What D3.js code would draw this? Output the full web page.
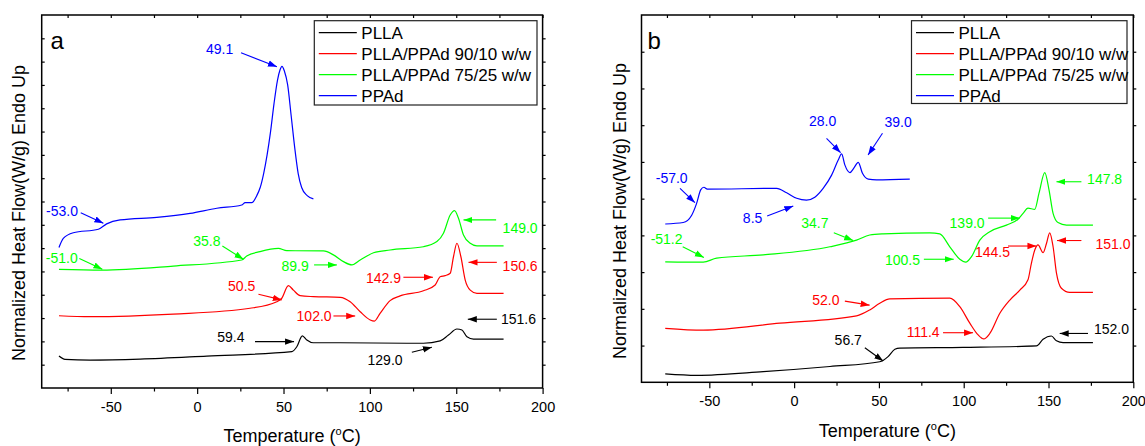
<!DOCTYPE html>
<html>
<head>
<meta charset="utf-8">
<script src="https://cdnjs.cloudflare.com/ajax/libs/d3/7.8.5/d3.min.js"></script>
<style>
body { margin: 0; background: #fff; }
svg { display: block; font-family: Arial, "Liberation Sans", sans-serif; }
</style>
</head>
<body>
<svg id="chart" width="1145" height="446"></svg>
<script>
// series names, in legend order
var seriesNames = ["PLLA", "PLLA/PPAd 90/10 w/w", "PLLA/PPAd 75/25 w/w", "PPAd"];
var xMajor = [-50, 0, 50, 100, 150, 200];
var xMinor = [-75, -25, 25, 75, 125, 175];

// panel a : [temperature (°C), heat flow (offset units)]
var aPLLA = [[-80,1.37],[-76.5,1.23],[-62,1.2],[-33,1.24],[5.6,1.37],[54.8,1.56],[57.7,1.77],[60.9,2.24],[63.5,2.06],[67.3,1.94],[82.8,1.94],[121.4,1.92],[131,1.92],[140.7,2.02],[145.5,2.27],[150.4,2.53],[153.3,2.49],[156.2,2.2],[160,2.1],[177.4,2.1]];
var a9010 = [[-80,3.1],[-62,3.06],[-13.8,3.17],[30.6,3.42],[46.1,3.7],[49,3.85],[52.8,4.39],[55.7,4.2],[59.6,3.96],[67.3,3.92],[82.8,3.89],[88.6,3.7],[94.4,3.27],[100.2,2.92],[102.6,2.87],[105.9,3.2],[111.7,3.75],[117.5,3.95],[131,4.17],[137.8,4.42],[140.7,4.77],[143.6,4.82],[146.5,4.92],[148.4,5.63],[150.4,6.21],[152.7,5.63],[155.2,4.63],[158.1,4.2],[162,4.06],[177.4,4.06]];
var a7525 = [[-80,5.09],[-55.2,5.06],[-13.8,5.23],[25.8,5.49],[28.7,5.66],[36.4,5.85],[47,5.99],[51.9,5.89],[73.1,5.88],[78.9,5.71],[84.7,5.42],[89.6,5.28],[94.4,5.49],[102.1,5.8],[111.7,5.92],[131,6.06],[138.8,6.28],[142.6,6.64],[146.5,7.42],[149,7.61],[151.3,7.28],[154.2,6.56],[158.1,6.21],[162,6.1],[177.4,6.1]];
var aPPAd = [[-80,6.03],[-77.5,6.42],[-71.7,6.66],[-57.2,6.81],[-52.4,7.04],[-44.6,7.21],[-23.4,7.32],[-4.1,7.49],[11.4,7.71],[25.8,7.85],[27.8,7.95],[31.6,7.95],[34.5,8.25],[36.5,8.6],[38.5,9.2],[40.5,10.0],[42.5,11.0],[44.5,12.2],[46.5,13.2],[48,13.65],[49.1,13.8],[50.5,13.6],[52.4,13.0],[54.4,11.7],[56.5,10.3],[58.5,9.2],[60.5,8.6],[63.7,8.25],[67.3,8.11]];

// panel b
var bPLLA = [[-76,0.23],[-57.5,0.19],[-18.2,0.29],[21.1,0.43],[50.5,0.56],[55.4,0.7],[59.4,0.9],[62.3,0.93],[99.6,0.95],[142.9,0.99],[146.8,1.17],[151.7,1.26],[154.7,1.13],[158.6,1.08],[176.2,1.08]];
var b9010 = [[-76,1.47],[-53.6,1.42],[-8.4,1.61],[36.8,1.81],[44.6,1.97],[50.5,2.15],[56.4,2.27],[91.8,2.29],[97.7,2.06],[103.6,1.61],[108.5,1.29],[111.8,1.18],[115.4,1.33],[121.3,1.88],[127.2,2.24],[133.1,2.51],[137.9,2.79],[139.9,3.24],[141.9,3.6],[143.8,3.74],[146.8,3.53],[148.8,3.78],[150.7,4.07],[152.7,3.69],[154.7,2.97],[157.6,2.56],[162.5,2.45],[176.2,2.45]];
var b7525 = [[-76,3.28],[-53.6,3.27],[-45.7,3.38],[-18.2,3.47],[21.1,3.69],[36.8,3.87],[44.6,4.01],[52.5,4.04],[80,4.07],[85.9,4.04],[91.8,3.69],[97.7,3.35],[101.2,3.27],[104.6,3.42],[109.5,3.87],[115.4,4.1],[125.2,4.28],[132,4.44],[135,4.6],[137.9,4.74],[141.9,4.71],[144.4,5.15],[147.8,5.71],[150.3,5.24],[152.7,4.6],[155.6,4.35],[160.6,4.28],[176.2,4.28]];
var bPPAd = [[-76,4.31],[-65.4,4.35],[-60.4,4.55],[-57.5,4.87],[-55.1,5.24],[-53.2,5.31],[-51.2,5.26],[-10.3,5.28],[-4.4,5.16],[1.5,5.01],[7.3,4.96],[12.2,5.04],[17.1,5.28],[22.1,5.64],[26,6.05],[28,6.22],[29.9,5.92],[32.9,5.71],[35.2,5.83],[37.8,5.99],[40.3,5.69],[43.7,5.53],[48.6,5.51],[68.2,5.53]];

// annotations: text, series index, text at [T,v], arrow from [T,v] to [T,v]
var notesA = [
  ["49.1", 3, [13.0,14.54], [25.4,14.38], [46.2,13.78]],
  ["-53.0", 3, [-78.2,7.61], [-67.4,7.52], [-54.3,7.07]],
  ["35.8", 2, [5.6,6.32], [14.6,6.09], [26.8,5.52]],
  ["-51.0", 2, [-78.4,5.59], [-68.2,5.56], [-54.9,5.09]],
  ["89.9", 2, [56.7,5.23], [67.7,5.28], [80.9,5.28]],
  ["149.0", 2, [187.0,6.85], [173.1,7.21], [154.2,7.21]],
  ["50.5", 1, [25.8,4.38], [35.5,4.02], [49.0,3.78]],
  ["142.9", 1, [107.9,4.71], [119.4,4.75], [136.5,4.75]],
  ["150.6", 1, [187.0,5.23], [173.5,5.39], [157.1,5.39]],
  ["102.0", 1, [67.7,3.09], [78.9,3.09], [91.5,3.09]],
  ["151.6", 0, [186.0,2.96], [173.5,2.95], [156.7,2.95]],
  ["59.4", 0, [19.5,2.18], [33.5,1.99], [56.1,1.99]],
  ["129.0", 0, [108.8,1.2], [124.3,1.53], [135.9,1.75]]
];
var notesB = [
  ["-57.0", 3, [-72.2,5.57], [-67.3,5.28], [-58.5,4.89]],
  ["8.5", 3, [-24.5,4.47], [-15.9,4.53], [-0.5,4.8]],
  ["28.0", 3, [16.8,7.11], [19.1,6.64], [27.4,6.25]],
  ["39.0", 3, [61.3,7.08], [52.1,6.78], [43.6,6.19]],
  ["34.7", 2, [12.2,4.33], [23.4,4.07], [34.8,3.86]],
  ["-51.2", 2, [-75.2,3.89], [-65.7,3.69], [-53.2,3.4]],
  ["100.5", 2, [63.9,3.33], [76.5,3.35], [94.1,3.35]],
  ["139.0", 2, [102.0,4.35], [114.4,4.47], [133.0,4.47]],
  ["147.8", 2, [183.1,5.53], [169.4,5.46], [154.7,5.46]],
  ["144.5", 1, [117.0,3.56], [126.1,3.71], [142.9,3.71]],
  ["151.0", 1, [188.0,3.78], [169.4,3.86], [155.0,3.86]],
  ["52.0", 1, [18.7,2.24], [29.9,2.21], [44.5,2.1]],
  ["111.4", 1, [76.1,1.38], [87.8,1.35], [105.5,1.35]],
  ["56.7", 0, [31.9,1.15], [41.7,0.94], [52.5,0.58]],
  ["152.0", 0, [187.1,1.44], [173.3,1.33], [156.6,1.33]]
];

function color(i) {
  switch (i) {
    case 0: return "#000000";
    case 1: return "#ff0000";
    case 2: return "#00ff00";
    case 3: return "#0000ff";
  }
}

var svg = d3.select("#chart");

// arrow heads, one per colour
var defs = svg.append("defs");
[0, 1, 2, 3].forEach(function(i) {
  defs.append("marker")
    .attr("id", "arrow" + i)
    .attr("markerUnits", "userSpaceOnUse")
    .attr("markerWidth", 10).attr("markerHeight", 8)
    .attr("refX", 9).attr("refY", 4)
    .attr("orient", "auto")
    .append("path")
    .attr("d", "M0,0.8 L9,4 L0,7.2 Z")
    .attr("fill", color(i));
});

function drawPanel(p) {
  var x = d3.scaleLinear().domain([-90, 200]).range([p.left, p.right]);
  var y = d3.scaleLinear().domain([0, p.ymax]).range([p.bottom, p.top]);
  var g = svg.append("g");
  var yTicks = d3.range(1, p.ymax);

  // bottom axis, major and minor ticks pointing out
  g.append("g").attr("transform", "translate(0," + p.bottom + ")")
    .call(d3.axisBottom(x).tickValues(xMajor).tickSize(6).tickPadding(7.6)
      .tickFormat(function(d) { return String(d); }));
  g.append("g").attr("transform", "translate(0," + p.bottom + ")")
    .call(d3.axisBottom(x).tickValues(xMinor).tickSize(3.5).tickFormat(""));
  // top axis, inward
  g.append("g").attr("transform", "translate(0," + p.top + ")")
    .call(d3.axisTop(x).tickValues(xMajor.concat(xMinor)).tickSize(-3).tickFormat(""));
  // left axis, inward; right axis, outward
  g.append("g").attr("transform", "translate(" + p.left + ",0)")
    .call(d3.axisLeft(y).tickValues(yTicks).tickSize(-3).tickFormat(""));
  g.append("g").attr("transform", "translate(" + p.right + ",0)")
    .call(d3.axisRight(y).tickValues(yTicks).tickSize(3).tickFormat(""));

  g.selectAll(".domain").remove();
  g.selectAll(".tick line").attr("stroke", "#000").attr("stroke-width", 1.2);
  g.selectAll(".tick text").attr("font-size", 14.5).attr("fill", "#000")
    .attr("font-family", "Arial, 'Liberation Sans', sans-serif");

  g.append("rect")
    .attr("x", p.left).attr("y", p.top)
    .attr("width", p.right - p.left).attr("height", p.bottom - p.top)
    .attr("fill", "none").attr("stroke", "#000").attr("stroke-width", 1.5);

  // curves
  var line = d3.line()
    .x(function(d) { return x(d[0]); })
    .y(function(d) { return y(d[1]); })
    .curve(d3.curveMonotoneX);
  g.selectAll(".curve")
    .data(p.series)
    .enter().append("path")
    .attr("class", "curve")
    .attr("d", line)
    .attr("fill", "none")
    .attr("stroke", function(d, i) { return color(i); })
    .attr("stroke-width", 1.2);

  // annotations
  var note = g.selectAll(".note").data(p.notes).enter().append("g").attr("class", "note");
  note.append("line")
    .attr("x1", function(d) { return x(d[3][0]); })
    .attr("y1", function(d) { return y(d[3][1]); })
    .attr("x2", function(d) { return x(d[4][0]); })
    .attr("y2", function(d) { return y(d[4][1]); })
    .attr("stroke", function(d) { return color(d[1]); })
    .attr("stroke-width", 1.1)
    .attr("marker-end", function(d) { return "url(#arrow" + d[1] + ")"; });
  note.append("text")
    .attr("x", function(d) { return x(d[2][0]); })
    .attr("y", function(d) { return y(d[2][1]); })
    .attr("dy", "0.36em")
    .attr("text-anchor", "middle")
    .attr("font-size", 14)
    .attr("fill", function(d) { return color(d[1]); })
    .text(function(d) { return d[0]; });

  // panel letter
  g.append("text")
    .attr("x", p.letterX).attr("y", 49)
    .attr("font-size", 24)
    .text(p.letter);

  // legend
  var leg = g.append("g");
  leg.append("rect")
    .attr("x", p.leg[0]).attr("y", p.leg[1])
    .attr("width", p.leg[2] - p.leg[0]).attr("height", p.leg[3] - p.leg[1])
    .attr("fill", "#fff").attr("stroke", "#222").attr("stroke-width", 1.2);
  var item = leg.selectAll(".item").data(seriesNames).enter().append("g").attr("class", "item");
  item.append("line")
    .attr("x1", p.leg[0] + 4.5).attr("x2", p.leg[0] + 42.5)
    .attr("y1", function(d, i) { return p.leg[1] + 12 + i * 21; })
    .attr("y2", function(d, i) { return p.leg[1] + 12 + i * 21; })
    .attr("stroke", function(d, i) { return color(i); })
    .attr("stroke-width", 1.2);
  item.append("text")
    .attr("x", p.leg[0] + 47)
    .attr("y", function(d, i) { return p.leg[1] + 12 + i * 21; })
    .attr("dy", "0.36em")
    .attr("font-size", 17)
    .text(function(d) { return d; });

  // axis titles
  var xt = g.append("text")
    .attr("x", (p.left + p.right) / 2).attr("y", p.xTitleY)
    .attr("text-anchor", "middle")
    .attr("font-size", 18);
  xt.append("tspan").text("Temperature (");
  xt.append("tspan").attr("font-size", 11).attr("dy", -7).text("o");
  xt.append("tspan").attr("dy", 7).text("C)");

  g.append("text")
    .attr("transform", "translate(" + p.yTitleX + "," + p.yTitleY + ") rotate(-90)")
    .attr("text-anchor", "middle")
    .attr("font-size", 18)
    .text("Normalized Heat Flow(W/g) Endo Up");
}

drawPanel({
  left: 41.7, right: 542.6, top: 15, bottom: 388, ymax: 16,
  series: [aPLLA, a9010, a7525, aPPAd], notes: notesA,
  letter: "a", letterX: 50.5,
  leg: [314.3, 20.7, 537, 105],
  xTitleY: 441.5, yTitleX: 25, yTitleY: 213
});
drawPanel({
  left: 641.5, right: 1133.3, top: 15, bottom: 382.3, ymax: 10,
  series: [bPLLA, b9010, b7525, bPPAd], notes: notesB,
  letter: "b", letterX: 647.5,
  leg: [911.5, 20.7, 1127, 103.5],
  xTitleY: 437, yTitleX: 625.5, yTitleY: 211
});
</script>
</body>
</html>
